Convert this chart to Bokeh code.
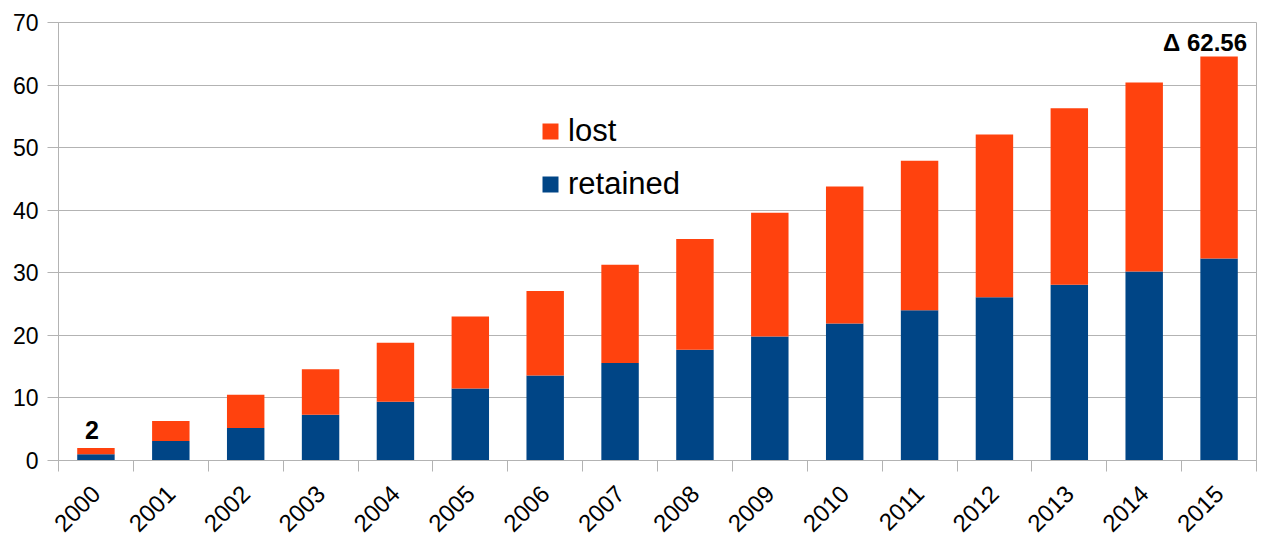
from math import pi

from bokeh.core.properties import value
from bokeh.embed import file_html
from bokeh.models import (ColumnDataSource, FixedTicker, Legend, LegendItem,
                          Range1d)
from bokeh.plotting import figure
from bokeh.resources import INLINE

# Yearly totals split into the retained and lost parts
years = ["2000", "2001", "2002", "2003", "2004", "2005", "2006", "2007",
         "2008", "2009", "2010", "2011", "2012", "2013", "2014", "2015"]
retained = [1.0, 3.1, 5.2, 7.3, 9.4, 11.5, 13.6, 15.6,
            17.7, 19.8, 21.9, 24.0, 26.1, 28.1, 30.2, 32.3]
lost = [1.0, 3.2, 5.3, 7.3, 9.4, 11.5, 13.5, 15.7,
        17.7, 19.8, 21.9, 23.9, 26.0, 28.2, 30.2, 32.26]
y_ticks = [0, 10, 20, 30, 40, 50, 60, 70]

BLUE = "#004586"
ORANGE = "#ff420e"
GRID = "#b3b3b3"
FONT = "Liberation Sans"

idx = list(range(len(years)))
totals = [r + l for r, l in zip(retained, lost)]
source = ColumnDataSource(dict(x=idx, retained=retained, lost=lost))

p = figure(frame_width=1198, frame_height=438, output_backend="svg",
           toolbar_location=None,
           x_range=Range1d(-0.5, len(years) - 0.5), y_range=Range1d(0, 70),
           min_border_left=58, min_border_right=7, min_border_top=22,
           min_border_bottom=70)
p.background_fill_color = "white"
p.border_fill_color = "white"
p.outline_line_color = GRID

renderers = p.vbar_stack(["retained", "lost"], x="x", width=0.5,
                         color=[BLUE, ORANGE], line_color=None, source=source)

# x axis: year names at the bar centres, small ticks at the category edges
p.xaxis.ticker = FixedTicker(ticks=idx,
                             minor_ticks=[i - 0.5 for i in range(len(years) + 1)])
p.xaxis.major_label_overrides = {i: y for i, y in enumerate(years)}
p.xaxis.major_label_orientation = pi / 4
p.xaxis.major_tick_line_color = None
p.xaxis.minor_tick_line_color = GRID
p.xaxis.minor_tick_in = 0
p.xaxis.minor_tick_out = 11
p.xaxis.axis_line_color = GRID
p.xaxis.major_label_standoff = 18
p.xgrid.visible = False

p.yaxis.ticker = FixedTicker(ticks=y_ticks)
p.yaxis.major_tick_line_color = GRID
p.yaxis.major_tick_in = 0
p.yaxis.major_tick_out = 11
p.yaxis.minor_tick_line_color = None
p.yaxis.axis_line_color = GRID
p.yaxis.major_label_standoff = 9
p.ygrid.grid_line_color = GRID
p.ygrid.ticker = FixedTicker(ticks=y_ticks)

for ax in (p.xaxis, p.yaxis):
    ax.major_label_text_font = FONT
    ax.major_label_text_color = "black"
p.yaxis.major_label_text_font_size = "23px"
p.xaxis.major_label_text_font_size = "24px"

# value labels above the first and last bars
p.text(x=[idx[0]], y=[totals[0]], text=[f"{totals[0]:g}"],
       text_font=value(FONT), text_font_style="bold", text_font_size="25px",
       text_align="center", text_baseline="alphabetic",
       x_offset=-4, y_offset=-18, text_color="black")
p.text(x=[idx[-1]], y=[totals[-1]], text=[f"Δ {totals[-1] - totals[0]:.2f}"],
       text_font=value(FONT), text_font_style="bold", text_font_size="24px",
       text_align="center", text_baseline="alphabetic",
       x_offset=-14, y_offset=-14, text_color="black")

legend = Legend(items=[LegendItem(label="lost", renderers=[renderers[1]]),
                       LegendItem(label="retained", renderers=[renderers[0]])],
                location=(482, 258), padding=0, margin=0, spacing=17,
                glyph_width=20, glyph_height=20, label_standoff=8,
                label_text_font=FONT, label_text_font_size="31px",
                label_text_color="black",
                border_line_color=None, background_fill_alpha=0)
p.add_layout(legend, "center")

open("out.html", "w").write(file_html(p, INLINE))
